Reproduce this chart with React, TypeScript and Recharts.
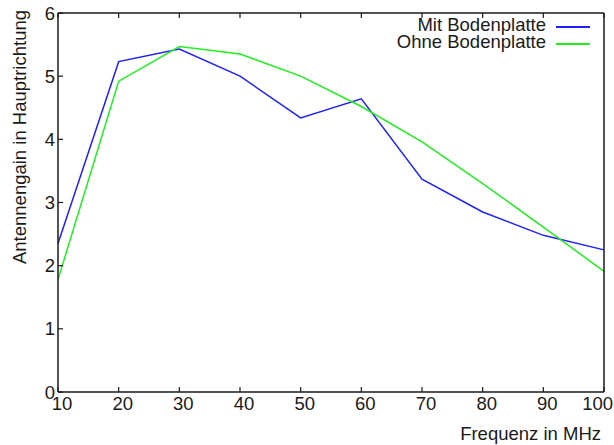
import { Label, Legend, Line, LineChart, XAxis, YAxis } from 'recharts'

// Frequenz in MHz
const freq = [10, 20, 30, 40, 50, 60, 70, 80, 90, 100]
// Antennengain in Hauptrichtung
const mitBodenplatte = [2.35, 5.23, 5.43, 5.0, 4.34, 4.64, 3.37, 2.85, 2.48, 2.25]
const ohneBodenplatte = [1.78, 4.92, 5.47, 5.35, 5.0, 4.52, 3.96, 3.3, 2.61, 1.91]

const xTicks = [10, 20, 30, 40, 50, 60, 70, 80, 90, 100]
const yTicks = [0, 1, 2, 3, 4, 5, 6]

const series = [
  { dataKey: 'mit', name: 'Mit Bodenplatte', stroke: '#2020ff' },
  { dataKey: 'ohne', name: 'Ohne Bodenplatte', stroke: '#22ee22' },
]

const data = freq.map((f, i) => ({ f, mit: mitBodenplatte[i], ohne: ohneBodenplatte[i] }))

const FONT = '"Liberation Sans", Arial, Helvetica, sans-serif'
const INK = '#1a1a1a'
const TICK = 5

const textProps = { fontFamily: FONT, fontSize: 18.5, fill: INK }

const BottomTick = ({ x, y, payload }: any) => {
  const last = payload.value === xTicks[xTicks.length - 1]
  return (
    <g>
      <line x1={x} x2={x} y1={y} y2={y - TICK} stroke={INK} strokeWidth={1.2} />
      <text
        x={last ? x + 9 : x + 4}
        y={y + 18}
        textAnchor={last ? 'end' : 'middle'}
        {...textProps}
      >
        {payload.value}
      </text>
    </g>
  )
}

const TopTick = ({ x, y }: any) => (
  <line x1={x} x2={x} y1={y} y2={y + TICK} stroke={INK} strokeWidth={1.2} />
)

const LeftTick = ({ x, y, payload }: any) => (
  <g>
    <line x1={x} x2={x + TICK} y1={y} y2={y} stroke={INK} strokeWidth={1.2} />
    <text x={x - 3} y={y + 6.5} textAnchor={'end'} {...textProps}>
      {payload.value}
    </text>
  </g>
)

const RightTick = ({ x, y }: any) => (
  <line x1={x} x2={x - TICK} y1={y} y2={y} stroke={INK} strokeWidth={1.2} />
)

const LegendBox = () => (
  <div style={{ fontFamily: FONT, fontSize: 18.5, color: INK, lineHeight: '16.7px' }}>
    {series.map((s) => (
      <div key={s.dataKey} style={{ display: 'flex', justifyContent: 'flex-end', alignItems: 'center' }}>
        <span>{s.name}</span>
        <span
          style={{
            display: 'inline-block',
            width: 34,
            height: 0,
            marginLeft: 10,
            marginTop: 4,
            borderTop: `2px solid ${s.stroke}`,
          }}
        />
      </div>
    ))}
  </div>
)

export default function App() {
  return (
    <div>
      <style>{'body{margin:0;background:#fff}'}</style>
      <LineChart
        width={614}
        height={445}
        data={data}
        margin={{ top: 12, right: 9, bottom: 0, left: 0 }}
      >
        <XAxis
          dataKey={'f'}
          type={'number'}
          domain={[10, 100]}
          ticks={xTicks}
          height={53}
          tickSize={0}
          tickMargin={0}
          tick={<BottomTick />}
          axisLine={{ stroke: INK, strokeWidth: 1.5 }}
          interval={0}
        >
          <Label
            content={() => (
              <text x={601} y={440} textAnchor={'end'} {...textProps}>
                Frequenz in MHz
              </text>
            )}
          />
        </XAxis>
        <XAxis
          xAxisId={'top'}
          orientation={'top'}
          dataKey={'f'}
          type={'number'}
          domain={[10, 100]}
          ticks={xTicks}
          height={1}
          tickSize={0}
          tickMargin={0}
          tick={<TopTick />}
          axisLine={{ stroke: INK, strokeWidth: 1.5 }}
          interval={0}
        />
        <YAxis
          type={'number'}
          domain={[0, 6]}
          ticks={yTicks}
          width={58}
          tickSize={0}
          tickMargin={0}
          tick={<LeftTick />}
          axisLine={{ stroke: INK, strokeWidth: 1.5 }}
          interval={0}
        >
          <Label
            content={() => (
              <text
                x={26}
                y={137}
                transform={'rotate(-90 26 137)'}
                textAnchor={'middle'}
                {...textProps}
              >
                Antennengain in Hauptrichtung
              </text>
            )}
          />
        </YAxis>
        <YAxis
          yAxisId={'right'}
          orientation={'right'}
          type={'number'}
          domain={[0, 6]}
          ticks={yTicks}
          width={1}
          tickSize={0}
          tickMargin={0}
          tick={<RightTick />}
          axisLine={{ stroke: INK, strokeWidth: 1.5 }}
          interval={0}
        />
        <Legend
          layout={'vertical'}
          align={'center'}
          verticalAlign={'middle'}
          content={<LegendBox />}
          wrapperStyle={{ position: 'absolute', top: 17, left: 0, width: 590 }}
        />
        {series.map((s) => (
          <Line
            key={s.dataKey}
            type={'linear'}
            dataKey={s.dataKey}
            name={s.name}
            stroke={s.stroke}
            strokeWidth={1.5}
            dot={false}
            activeDot={false}
            isAnimationActive={false}
          />
        ))}
      </LineChart>
    </div>
  )
}
